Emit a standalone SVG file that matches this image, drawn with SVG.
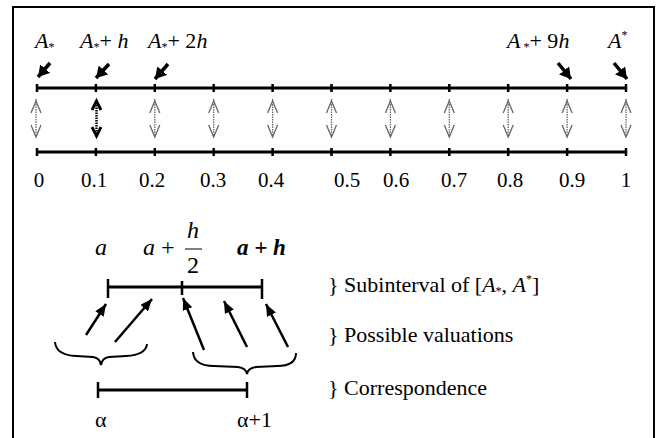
<svg xmlns="http://www.w3.org/2000/svg" width="667" height="438" viewBox="0 0 667 438">
<style>
text{fill:#000}
.lbl{font-size:22px}
.num{font-size:21px;text-anchor:middle}
.it{font-style:italic}
.sub{font-size:12px}
.axis{stroke:#000;stroke-width:3;fill:none}
.tick{stroke:#000;stroke-width:2.5}
.dbl{stroke:#666;stroke-width:1.3;stroke-dasharray:1.5 1;fill:none}
.dblhead{stroke:#666;stroke-width:1.3;fill:none}
.dblb{stroke:#000;stroke-width:2.5;stroke-dasharray:1.5 1;fill:none}
.dblbhead{stroke:#000;stroke-width:2.8;fill:none}
.farrow{stroke:#000;stroke-width:3.5;fill:none;marker-end:url(#fh)}
.barrow{stroke:#000;stroke-width:2.5;fill:none;marker-end:url(#bh)}
.brace{stroke:#000;stroke-width:2;fill:none}
.rl{font-size:22px}
</style>
<defs>
<marker id="fh" markerUnits="userSpaceOnUse" viewBox="0 0 11 13" refX="11" refY="6.5" markerWidth="11" markerHeight="13" orient="auto"><path d="M0,0 L11,6.5 L0,13 z" fill="#000"/></marker>
<marker id="bh" markerUnits="userSpaceOnUse" viewBox="0 0 12 10" refX="12" refY="5" markerWidth="12" markerHeight="10" orient="auto"><path d="M0,0 L12,5 L0,10 z" fill="#000"/></marker>
</defs>

<path d="M13,438 V7 H654 V438" fill="none" stroke="#000" stroke-width="2"/>

<g id="top-labels" font-family="Liberation Serif">
<text font-family="Liberation Serif" class="lbl" x="35" y="48"><tspan class="it">A</tspan><tspan class="sub" dy="3">*</tspan></text>
<text font-family="Liberation Serif" class="lbl" x="80" y="48"><tspan class="it">A</tspan><tspan class="sub" dy="3">*</tspan><tspan dy="-3">+ </tspan><tspan class="it">h</tspan></text>
<text font-family="Liberation Serif" class="lbl" x="148" y="48"><tspan class="it">A</tspan><tspan class="sub" dy="3">*</tspan><tspan dy="-3">+ 2</tspan><tspan class="it">h</tspan></text>
<text font-family="Liberation Serif" class="lbl" x="507" y="48"><tspan class="it">A</tspan><tspan class="sub" dy="3"> *</tspan><tspan dy="-3">+ 9</tspan><tspan class="it">h</tspan></text>
<text font-family="Liberation Serif" class="lbl" x="608" y="48"><tspan class="it">A</tspan><tspan class="sub" dy="-9">*</tspan></text>
</g>

<g id="top-axis">
<line class="axis" x1="37" y1="88" x2="626" y2="88"/>
<path class="tick" d="M37,84V92M95.9,84V92M154.8,84V92M213.7,84V92M272.6,84V92M331.5,84V92M390.4,84V92M449.3,84V92M508.2,84V92M567.1,84V92M626,84V92"/>
</g>

<g id="bottom-axis">
<line class="axis" x1="37" y1="152" x2="626" y2="152"/>
<path class="tick" d="M37,148V156M95.9,148V156M154.8,148V156M213.7,148V156M272.6,148V156M331.5,148V156M390.4,148V156M449.3,148V156M508.2,148V156M567.1,148V156M626,148V156"/>
</g>

<g id="numbers" font-family="Liberation Serif">
<text font-family="Liberation Serif" class="num" x="39" y="187">0</text>
<text font-family="Liberation Serif" class="num" x="94" y="187">0.1</text>
<text font-family="Liberation Serif" class="num" x="152" y="187">0.2</text>
<text font-family="Liberation Serif" class="num" x="213" y="187">0.3</text>
<text font-family="Liberation Serif" class="num" x="271" y="187">0.4</text>
<text font-family="Liberation Serif" class="num" x="347" y="187">0.5</text>
<text font-family="Liberation Serif" class="num" x="396" y="187">0.6</text>
<text font-family="Liberation Serif" class="num" x="454" y="187">0.7</text>
<text font-family="Liberation Serif" class="num" x="510" y="187">0.8</text>
<text font-family="Liberation Serif" class="num" x="572" y="187">0.9</text>
<text font-family="Liberation Serif" class="num" x="626" y="187">1</text>
</g>

<g id="connectors">
<line class="farrow" x1="50" y1="63" x2="38" y2="77"/>
<line class="farrow" x1="109" y1="64" x2="96" y2="78"/>
<line class="farrow" x1="168" y1="64" x2="155" y2="79"/>
<line class="farrow" x1="558" y1="63" x2="571" y2="79"/>
<line class="farrow" x1="614" y1="63" x2="627" y2="79"/>

<path class="dbl" d="M36,99V136M154.8,99V136M213.7,99V136M272.6,99V136M331.5,99V136M390.4,99V136M449.3,99V136M508.2,99V136M567.1,99V136M626,99V136"/>
<path class="dblhead" d="M31,113L36,101L41,113M31,125L36,137L41,125"/>
<path class="dblhead" d="M149.8,113L154.8,101L159.8,113M149.8,125L154.8,137L159.8,125"/>
<path class="dblhead" d="M208.7,113L213.7,101L218.7,113M208.7,125L213.7,137L218.7,125"/>
<path class="dblhead" d="M267.6,113L272.6,101L277.6,113M267.6,125L272.6,137L277.6,125"/>
<path class="dblhead" d="M326.5,113L331.5,101L336.5,113M326.5,125L331.5,137L336.5,125"/>
<path class="dblhead" d="M385.4,113L390.4,101L395.4,113M385.4,125L390.4,137L395.4,125"/>
<path class="dblhead" d="M444.3,113L449.3,101L454.3,113M444.3,125L449.3,137L454.3,125"/>
<path class="dblhead" d="M503.2,113L508.2,101L513.2,113M503.2,125L508.2,137L513.2,125"/>
<path class="dblhead" d="M562.1,113L567.1,101L572.1,113M562.1,125L567.1,137L572.1,125"/>
<path class="dblhead" d="M621,113L626,101L631,113M621,125L626,137L631,125"/>
<path class="dblb" d="M96.5,100V135"/>
<path class="dblbhead" d="M92,110L96.5,101L101,110M92,127L96.5,136L101,127"/>

<line class="barrow" x1="86" y1="335" x2="106" y2="304"/>
<line class="barrow" x1="115" y1="342" x2="152" y2="299"/>
<line class="barrow" x1="204" y1="350" x2="183" y2="298"/>
<line class="barrow" x1="247" y1="347" x2="224" y2="301"/>
<line class="barrow" x1="288" y1="347" x2="266" y2="304"/>

<path class="brace" d="M55,342 Q56,355 76,356 L93,357 Q100,358 101,365 Q102,358 109,357 L126,356 Q146,355 147,344"/>
<path class="brace" d="M193,352 Q194,366 214,366 L238,367 Q246,368 247,374 Q248,368 256,367 L277,366 Q296,366 296,353"/>
</g>

<g id="subinterval">
<line class="axis" x1="108" y1="287" x2="262" y2="287"/>
<path class="tick" d="M108,279V298M182,281V295M262,279V299"/>
</g>

<g id="correspondence">
<line class="axis" x1="98" y1="390" x2="247" y2="390"/>
<path class="tick" d="M98,382V398M247,382V398"/>
</g>

<g id="sub-labels" font-family="Liberation Serif">
<text font-family="Liberation Serif" class="it" font-size="24" x="95" y="255">a</text>
<text font-family="Liberation Serif" font-size="24" x="143" y="255"><tspan class="it">a</tspan> +</text>
<text font-family="Liberation Serif" class="it" font-size="24" x="193" y="238" text-anchor="middle">h</text>
<line x1="185" y1="249" x2="202" y2="249" stroke="#000" stroke-width="1"/>
<text font-family="Liberation Serif" font-size="24" x="193" y="273" text-anchor="middle">2</text>
<text font-family="Liberation Serif" class="it" font-size="23" font-weight="bold" x="237" y="255">a + h</text>
<text font-family="Liberation Serif" font-size="22" x="95" y="427">α</text>
<text font-family="Liberation Serif" font-size="22" x="237" y="427">α+1</text>
</g>

<g id="legend" font-family="Liberation Serif">
<text font-family="Liberation Serif" class="rl" x="328" y="292">} Subinterval of [<tspan class="it">A</tspan><tspan class="sub" dy="3">*</tspan><tspan dy="-3">, </tspan><tspan class="it">A</tspan><tspan class="sub" dy="-9">*</tspan><tspan dy="9">]</tspan></text>
<text font-family="Liberation Serif" class="rl" x="328" y="342">} Possible valuations</text>
<text font-family="Liberation Serif" class="rl" x="328" y="395">} Correspondence</text>
</g>
</svg>
